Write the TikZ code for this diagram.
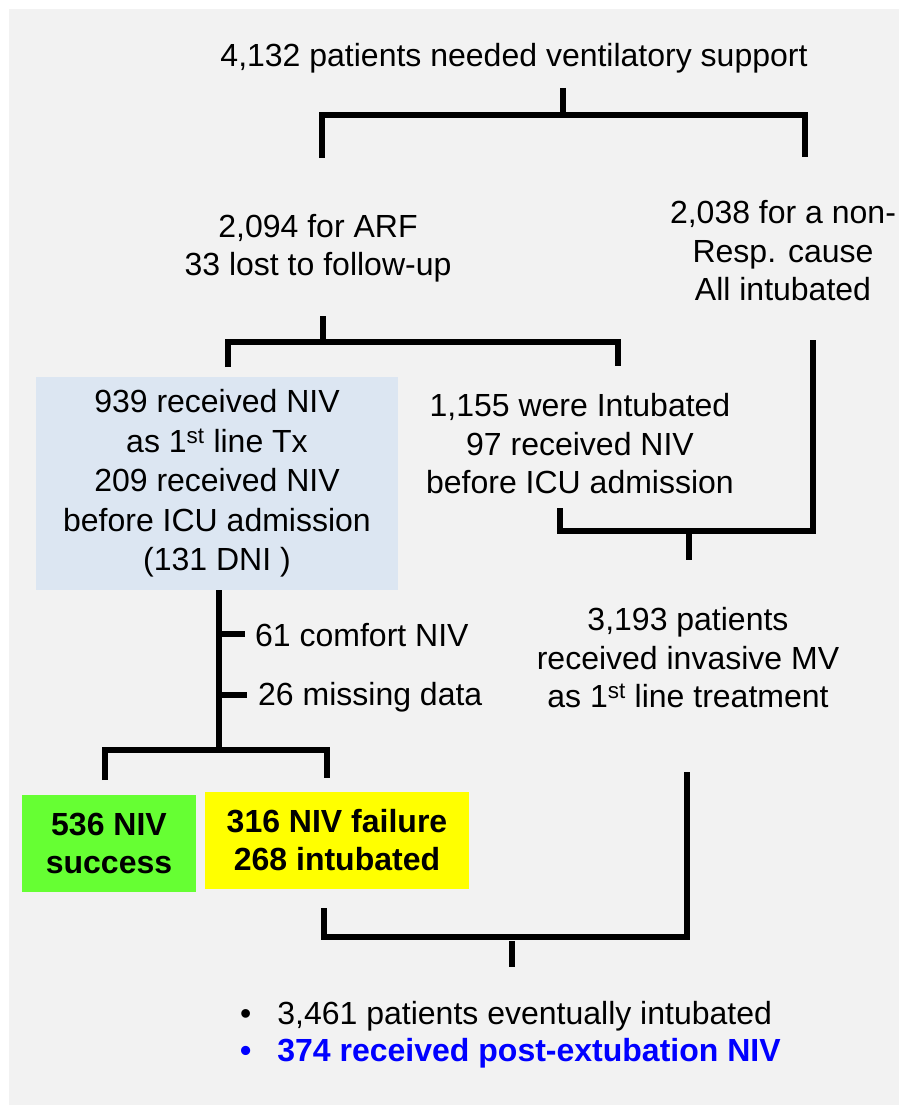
\documentclass[tikz,border=0pt]{standalone}
\usepackage{fontspec}
\setmainfont{Liberation Sans}
\definecolor{bggray}{HTML}{F2F2F2}
\definecolor{boxblue}{HTML}{DCE6F2}
\definecolor{nivgreen}{HTML}{66FF33}
\definecolor{nivyellow}{HTML}{FFFF00}
\definecolor{textblue}{HTML}{0000FF}
\begin{document}
\begin{tikzpicture}[x=1pt,y=-1pt,
  lbl/.style={font=\fontsize{32}{38.5}\selectfont, inner sep=0pt, align=center},
  bold/.style={font=\fontsize{32}{38}\selectfont\bfseries},
  conn/.style={line width=5.5pt, line join=miter, line cap=butt}]
\useasboundingbox (0,0) rectangle (899,1105);
\fill[bggray] (9,9) rectangle (899,1105);

% nodes
\node[lbl] (top) at (514,58) {4,132 patients needed ventilatory support};
\node[lbl] (arf) at (318,248) {2,094 for ARF\\33 lost to follow-up};
\node[lbl] (nonresp) at (783,251) {2,038 for a non-\\Resp. cause\\All intubated};
\node[lbl, font=\fontsize{32}{39.5}\selectfont, fill=boxblue, minimum width=362pt, minimum height=213pt] (niv) at (217,483.5)
  {939 received NIV\\as 1\textsuperscript{st} line Tx\\209 received NIV\\before ICU admission\\(131 DNI )};
\node[lbl] (intub) at (580,444) {1,155 were Intubated\\97 received NIV\\before ICU admission};
\node[lbl] (imv) at (688,658) {3,193 patients\\received invasive MV\\as 1\textsuperscript{st} line treatment};
\node[lbl, anchor=west] (comfort) at (255,635) {61 comfort NIV};
\node[lbl, anchor=west] (missing) at (258,697) {26 missing data};
\node[lbl, bold, fill=nivgreen, minimum width=174pt, minimum height=97pt] (succ) at (109,843.5) {536 NIV\\success};
\node[lbl, bold, fill=nivyellow, minimum width=264pt, minimum height=97pt] (fail) at (337,840.5) {316 NIV failure\\268 intubated};
\node[lbl, anchor=west] (item1) at (240,1016) {\textbullet\hspace{26pt}3,461 patients eventually intubated};
\node[lbl, bold, anchor=west, text=textblue] (item2) at (240,1053) {\textbullet\hspace{26pt}374 received post-extubation NIV};

% junction coordinates
\coordinate (s1a) at (563,88);
\coordinate (s1b) at (563,115);
\coordinate (l1a) at (322,158);
\coordinate (l1b) at (805,157);

\coordinate (s2a) at (323,316);
\coordinate (s2b) at (323,342);
\coordinate (l2a) at (228,367);
\coordinate (l2b) at (618,366);

\coordinate (r3a) at (813,340);
\coordinate (l3a) at (560,508);
\coordinate (j3) at (689,531);
\coordinate (s3b) at (689,560);

\coordinate (v4a) at (219,590);
\coordinate (v4b) at (219,750);
\coordinate (t4a) at (245,634);
\coordinate (t4b) at (247,695);
\coordinate (l4a) at (105,780);
\coordinate (l4b) at (327,778);

\coordinate (l5a) at (324,908);
\coordinate (r5a) at (687,772);
\coordinate (j5) at (512,937);
\coordinate (s5a) at (512,941);
\coordinate (s5b) at (512,967);

% connectors
\draw[conn] (s1a) -- (s1b);
\draw[conn] (l1a) |- (s1b) -| (l1b);

\draw[conn] (s2a) -- (s2b);
\draw[conn] (l2a) |- (s2b) -| (l2b);

\draw[conn] (l3a) |- (j3) -| (r3a);
\draw[conn] (j3) -- (s3b);

\draw[conn] (v4a) -- (v4b);
\draw[conn] (v4a |- t4a) -- (t4a);
\draw[conn] (v4a |- t4b) -- (t4b);
\draw[conn] (l4a) |- (v4b) -| (l4b);

\draw[conn] (l5a) |- (j5) -| (r5a);
\draw[conn] (s5a) -- (s5b);
\end{tikzpicture}
\end{document}
